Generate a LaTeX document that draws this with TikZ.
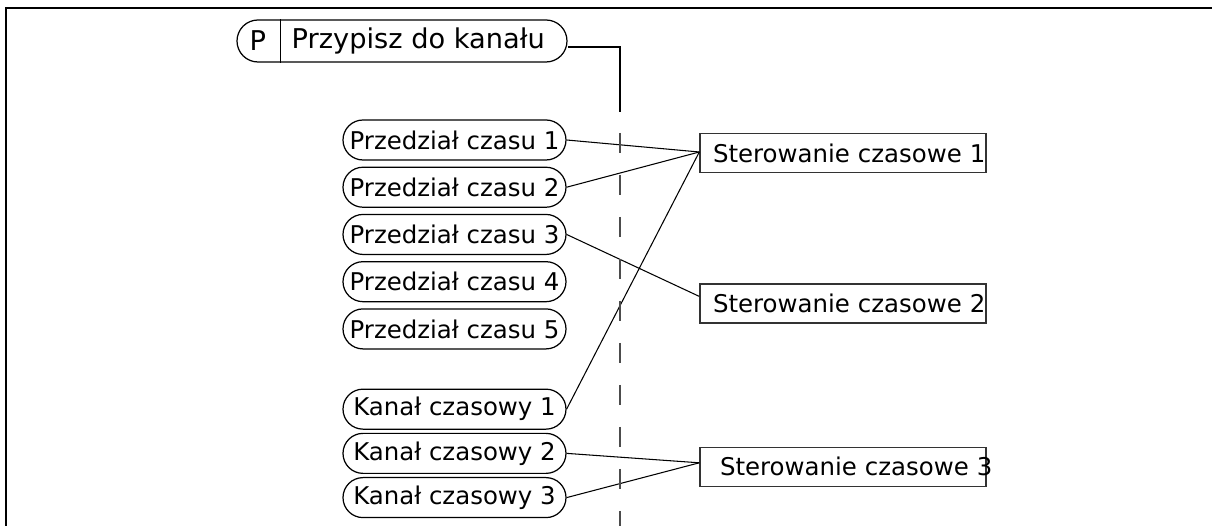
\documentclass[tikz,border=0pt]{standalone}
\usepackage{fontspec}
\setmainfont{DejaVu Sans}
\usetikzlibrary{positioning}

\begin{document}
\begin{tikzpicture}[
  node distance=0.12cm,
  every node/.style={font=\fontsize{13.9}{16}\selectfont},
  slot/.style ={rectangle, draw, rounded corners=0.4cm, minimum width=4.46cm, minimum height=0.8cm, inner sep=0pt, line width=0.7pt},
  ctrl/.style ={rectangle, draw=black!80, line width=0.8pt, text width=5.2cm, inner xsep=0.26cm, inner ysep=0pt, minimum height=0.78cm, align=left},
  link/.style ={line width=0.6pt}
]

%% frame (open to the right and the bottom)
\useasboundingbox (0,0) rectangle (24.24,-10.52);
\coordinate (fbl) at (0.12,-10.52);
\coordinate (ftl) at (0.12,-0.16);
\coordinate (ftr) at (24.24,-0.16);
\draw[line width=1.2pt] (fbl) -- (ftl) -- (ftr);

%% parameter: P | channel assignment
\node[slot, minimum width=6.6cm, minimum height=0.84cm, rounded corners=0.42cm] (assign) at (8.04,-0.82) {};
\node[right=0.26cm of assign.west, inner sep=0pt, font=\fontsize{15.5}{18}\selectfont] (pmark) {P};
\draw[line width=0.6pt] ([xshift=0.88cm]assign.north west) -- ([xshift=0.88cm]assign.south west);
\node[right=1.1cm of assign.west, inner sep=0pt, font=\fontsize{15.5}{18}\selectfont] (ptext) {Przypisz do kanału};

%% time slots
\node[slot] (s1) at (9.09,-2.80) {Przedział czasu 1};
\node[slot, below=of s1] (s2) {Przedział czasu 2};
\node[slot, below=of s2] (s3) {Przedział czasu 3};
\node[slot, below=of s3] (s4) {Przedział czasu 4};
\node[slot, below=of s4] (s5) {Przedział czasu 5};

%% time channels
\node[slot, below=0.78cm of s5] (k1) {Kanał czasowy 1};
\node[slot, below=0.06cm of k1] (k2) {Kanał czasowy 2};
\node[slot, below=0.06cm of k2] (k3) {Kanał czasowy 3};

%% time controls
\node[ctrl] (c1) at (16.86,-3.06) {\mbox{Sterowanie czasowe 1}};
\node[ctrl, below=2.2cm of c1]  (c2) {\mbox{Sterowanie czasowe 2}};
\node[ctrl, below=2.46cm of c2] (c3) {\mbox{\hspace*{0.14cm}Sterowanie czasowe 3}};

%% entry points on the controls
\coordinate (c1in) at ([yshift=0.02cm]c1.west);
\coordinate (c2in) at ([yshift=0.14cm]c2.west);
\coordinate (c3in) at ([yshift=0.08cm]c3.west);

%% assignments
\foreach \s/\c in {s1/c1in, s2/c1in, k1/c1in, s3/c2in, k2/c3in, k3/c3in}{
  \draw[link] (\s.east) -- (\c);
}

%% parameter bus
\coordinate (busturn) at (12.4,-0.94);
\coordinate (busmid)  at (12.4,-2.24);
\coordinate (busdash) at (12.4,-2.66);
\coordinate (busend)  at (12.4,-10.52);
\draw[link] ([yshift=-0.12cm]assign.east) -- (busturn) -- (busmid);
\draw[black!70, line width=0.8pt, dash pattern=on 0.4cm off 0.44cm] (busdash) -- (busend);

\end{tikzpicture}
\end{document}
